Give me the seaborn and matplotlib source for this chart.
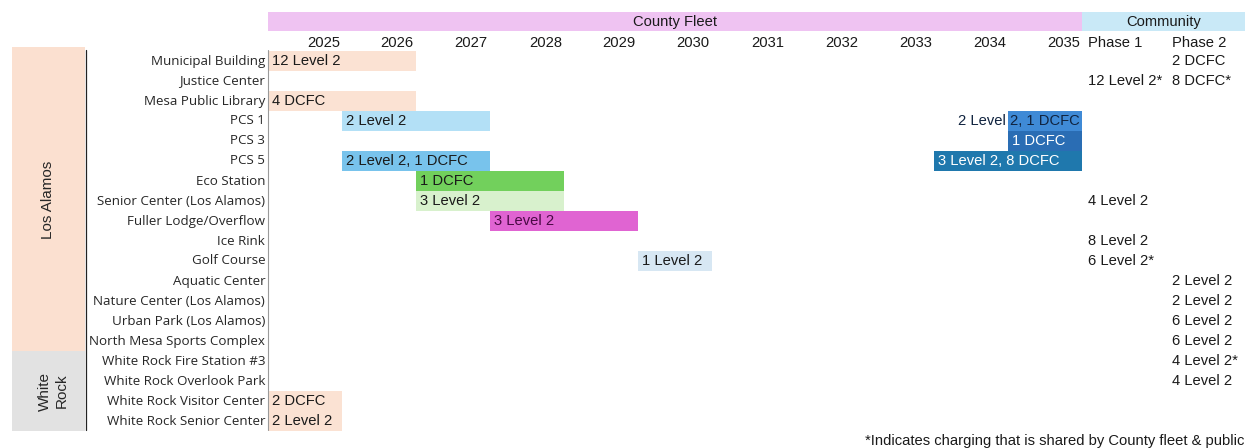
import numpy as np
import pandas as pd
import matplotlib
matplotlib.use("Agg")
import matplotlib.pyplot as plt
from matplotlib.colors import ListedColormap
from matplotlib.patches import Rectangle
import seaborn as sns

# ---------------- data ----------------
sites = ["Municipal Building", "Justice Center", "Mesa Public Library", "PCS 1", "PCS 3",
         "PCS 5", "Eco Station", "Senior Center (Los Alamos)", "Fuller Lodge/Overflow",
         "Ice Rink", "Golf Course", "Aquatic Center", "Nature Center (Los Alamos)",
         "Urban Park (Los Alamos)", "North Mesa Sports Complex", "White Rock Fire Station #3",
         "White Rock Overlook Park", "White Rock Visitor Center", "White Rock Senior Center"]
years = ["2025", "2026", "2027", "2028", "2029", "2030", "2031", "2032", "2033", "2034", "2035"]
phases = ["Phase 1", "Phase 2"]

# fleet deployment bars: site, first year, last year, label, colour group
bar_site = ["Municipal Building", "Mesa Public Library", "PCS 1", "PCS 1", "PCS 3", "PCS 5",
            "PCS 5", "Eco Station", "Senior Center (Los Alamos)", "Fuller Lodge/Overflow",
            "Golf Course", "White Rock Visitor Center", "White Rock Senior Center"]
bar_start = ["2025", "2025", "2026", "2035", "2035", "2026", "2034", "2027", "2027", "2028",
             "2030", "2025", "2025"]
bar_end = ["2026", "2026", "2027", "2035", "2035", "2027", "2035", "2028", "2028", "2029",
           "2030", "2025", "2025"]
bar_label = ["12 Level 2", "4 DCFC", "2 Level 2", "2 Level 2, 1 DCFC", "1 DCFC",
             "2 Level 2, 1 DCFC", "3 Level 2, 8 DCFC", "1 DCFC", "3 Level 2", "3 Level 2",
             "1 Level 2", "2 DCFC", "2 Level 2"]
bar_group = ["peach", "peach", "sky", "blue", "navy", "sky2", "teal", "green", "lightgreen",
             "magenta", "pale", "peach", "peach"]

# community phases
phase1_site = ["Justice Center", "Senior Center (Los Alamos)", "Ice Rink", "Golf Course"]
phase1_label = ["12 Level 2*", "4 Level 2", "8 Level 2", "6 Level 2*"]
phase2_site = ["Municipal Building", "Justice Center", "Aquatic Center",
               "Nature Center (Los Alamos)", "Urban Park (Los Alamos)",
               "North Mesa Sports Complex", "White Rock Fire Station #3",
               "White Rock Overlook Park"]
phase2_label = ["2 DCFC", "8 DCFC*", "2 Level 2", "2 Level 2", "6 Level 2", "6 Level 2",
                "4 Level 2*", "4 Level 2"]

regions = ["Los Alamos", "White\nRock"]
region_rows = [15, 4]
footnote = "*Indicates charging that is shared by County fleet & public"

# ---------------- styles ----------------
group_names = ["peach", "sky", "sky2", "blue", "navy", "teal", "green", "lightgreen",
               "magenta", "pale"]
group_colors = ["#fbe2d3", "#b3e0f6", "#78c3ec", "#3f8ad6", "#2a6db4", "#1f78ad",
                "#72d05c", "#d8f1cd", "#e064d2", "#d7e7f3"]
group_text = {"peach": "#1a1a1a", "sky": "#1a1a1a", "sky2": "#1a1a1a", "blue": "#10233f",
              "navy": "#ffffff", "teal": "#ffffff", "green": "#1a1a1a",
              "lightgreen": "#1a1a1a", "magenta": "#4a0a45", "pale": "#1a1a1a"}

sns.set_theme(style="white")
plt.rcParams["font.family"] = ["Liberation Sans", "DejaVu Sans"]

W, H = 1251, 448
fig = plt.figure(figsize=(W / 100, H / 100), dpi=100)
ax = fig.add_axes([268 / W, 1 - 431 / H, 814 / W, 380 / H])

# build grid of colour codes
grid = np.zeros((len(sites), len(years)))
for s, a, b, g in zip(bar_site, bar_start, bar_end, bar_group):
    r = sites.index(s)
    grid[r, years.index(a):years.index(b) + 1] = group_names.index(g) + 1
df = pd.DataFrame(grid, index=sites, columns=years)

sns.heatmap(df, ax=ax, mask=(df == 0), cmap=ListedColormap(group_colors),
            vmin=0.5, vmax=len(group_colors) + 0.5, cbar=False,
            xticklabels=False, yticklabels=True, linewidths=0)
ax.tick_params(axis="y", length=0, pad=2, labelsize=9.6, labelcolor="#262626")
for t in ax.get_yticklabels():
    t.set_fontfamily(["Open Sans", "DejaVu Sans"])
ax.tick_params(axis="x", length=0)
ax.set_xlabel("")
ax.set_ylabel("")

fs = 10.6
tc = "#1a1a1a"
# bar labels
for s, a, b, lab, g in zip(bar_site, bar_start, bar_end, bar_label, bar_group):
    r = sites.index(s) + 0.5
    x0 = years.index(a)
    x1 = years.index(b) + 1
    if (x1 - x0) == 1 and len(lab) > 10:
        ax.text(x1 - 0.03, r, lab, ha="right", va="center", fontsize=fs,
                color=group_text[g])
    else:
        ax.text(x0 + 0.05, r, lab, ha="left", va="center", fontsize=fs,
                color=group_text[g])

# header bands
n = len(years)
ax.add_patch(Rectangle((0, -1.95), n, 0.95, color="#efc3f2", clip_on=False, lw=0))
ax.add_patch(Rectangle((n, -1.95), 2.2, 0.95, color="#c9e9f7", clip_on=False, lw=0))
ax.text(n / 2, -1.47, "County Fleet", ha="center", va="center", fontsize=fs, color=tc)
ax.text(n + 1.1, -1.47, "Community", ha="center", va="center", fontsize=fs, color=tc)
for i, y in enumerate(years):
    ax.text(i + 0.97, -0.42, y, ha="right", va="center", fontsize=fs, color=tc)
ax.text(n + 0.08, -0.42, phases[0], ha="left", va="center", fontsize=fs, color=tc)
ax.text(n + 1.22, -0.42, phases[1], ha="left", va="center", fontsize=fs, color=tc)

for s, lab in zip(phase1_site, phase1_label):
    ax.text(n + 0.08, sites.index(s) + 0.5, lab, ha="left", va="center", fontsize=fs,
            color=tc)
for s, lab in zip(phase2_site, phase2_label):
    ax.text(n + 1.22, sites.index(s) + 0.5, lab, ha="left", va="center", fontsize=fs,
            color=tc)

# region bands on the left
xl0, xl1 = -3.46, -2.47
ax.add_patch(Rectangle((xl0, -0.2), xl1 - xl0, region_rows[0] + 0.2, color="#fbe0d0",
                       clip_on=False, lw=0))
ax.add_patch(Rectangle((xl0, region_rows[0]), xl1 - xl0, region_rows[1], color="#e2e2e2",
                       clip_on=False, lw=0))
ax.text(-2.97, 7.45, regions[0], rotation=90, ha="center", va="center", fontsize=11,
        color="#262626")
ax.text(-2.9, region_rows[0] + region_rows[1] / 2, regions[1], rotation=90, ha="center",
        va="center", fontsize=11, color="#262626", linespacing=1.25)

# separator lines
ax.plot([-2.46, -2.46], [-0.05, 18.95], color="#222222", lw=0.9, clip_on=False)
ax.plot([0, 0], [-0.05, 18.95], color="#9a9a9a", lw=0.8, clip_on=False)

ax.text(13.2, 19.5, footnote, ha="right", va="center", fontsize=fs, color=tc)

fig.savefig("out.png", dpi=100)
